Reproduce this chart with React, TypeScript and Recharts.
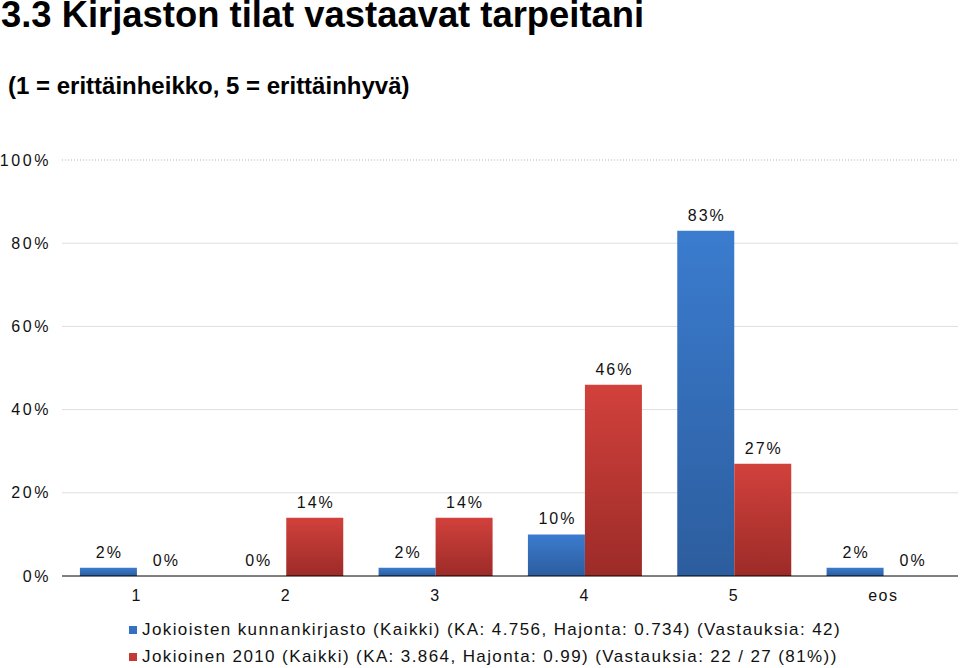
import { BarChart, Bar, XAxis, YAxis, CartesianGrid, ReferenceLine, LabelList } from "recharts";

const categories = ['1', '2', '3', '4', '5', 'eos'];
const kirjasto = [2, 0, 2, 10, 83, 2];
const jokioinen2010 = [0, 14, 14, 46, 27, 0];
const yTicks = [0, 20, 40, 60, 80, 100];
const seriesNames = [
  'Jokioisten kunnankirjasto (Kaikki) (KA: 4.756, Hajonta: 0.734) (Vastauksia: 42)',
  'Jokioinen 2010 (Kaikki) (KA: 3.864, Hajonta: 0.99) (Vastauksia: 22 / 27 (81%))',
];
const seriesColors = ['#3571c0', '#c23a35'];

const data = categories.map((c, i) => ({ cat: c, a: kirjasto[i], b: jokioinen2010[i] }));

const font = '"Liberation Sans", Arial, Helvetica, sans-serif';

// labels drawn by hand so that the 0% bars get one too
const ValueLabel = (props: any) => {
  const { x, y, width, value } = props;
  return (
    <text x={x + width / 2 + 1} y={y - 10} textAnchor="middle" fontSize={16} fill="#111" fontFamily={font} letterSpacing={2}>
      {`${value}%`}
    </text>
  );
};

export default function App() {
  return (
    <div style={{ position: 'absolute', left: 0, top: 0, width: 960, height: 668, background: '#fff', overflow: 'hidden' }}>
      <div style={{ position: 'absolute', left: 1, top: -3, fontFamily: font, fontWeight: 'bold', fontSize: 36.4, lineHeight: '36px', color: '#000', whiteSpace: 'nowrap' }}>
        3.3 Kirjaston tilat vastaavat tarpeitani
      </div>
      <div style={{ position: 'absolute', left: 8, top: 74, fontFamily: font, fontWeight: 'bold', fontSize: 24, lineHeight: '24px', color: '#000', whiteSpace: 'nowrap' }}>
        (1 = erittäinheikko, 5 = erittäinhyvä)
      </div>
      <BarChart
        width={960}
        height={668}
        data={data}
        margin={{ top: 160, right: 2, left: 0, bottom: 62 }}
        barCategoryGap="12%"
        barGap={0}
        style={{ position: 'absolute', left: 0, top: 0 }}
      >
        <defs>
          <linearGradient id="gBlue" x1="0" y1="0" x2="0" y2="1">
            <stop offset="0%" stopColor="#3b7ccf" />
            <stop offset="100%" stopColor="#2c5d9e" />
          </linearGradient>
          <linearGradient id="gRed" x1="0" y1="0" x2="0" y2="1">
            <stop offset="0%" stopColor="#d2413c" />
            <stop offset="100%" stopColor="#9c2b28" />
          </linearGradient>
        </defs>
        <CartesianGrid vertical={false} horizontalValues={[20, 40, 60, 80]} stroke="#dedede" />
        <ReferenceLine y={100} stroke="#b5b5b5" strokeDasharray="1 2" />
        <XAxis
          dataKey="cat"
          height={30}
          axisLine={{ stroke: '#000' }}
          tickLine={false}
          tickSize={0}
          tickMargin={14}
          tick={{ fontSize: 16, fill: '#111', fontFamily: font, letterSpacing: 1.5 }}
        />
        <YAxis
          width={62}
          domain={[0, 100]}
          ticks={yTicks}
          axisLine={false}
          tickLine={false}
          tickSize={0}
          tickMargin={11}
          tickFormatter={(v) => `${v}%`}
          tick={{ fontSize: 16, fill: '#111', fontFamily: font, letterSpacing: 2.6 }}
        />
        <Bar dataKey="a" name={seriesNames[0]} fill="url(#gBlue)" minPointSize={0.01} isAnimationActive={false}>
          <LabelList dataKey="a" content={<ValueLabel />} />
        </Bar>
        <Bar dataKey="b" name={seriesNames[1]} fill="url(#gRed)" minPointSize={0.01} isAnimationActive={false}>
          <LabelList dataKey="b" content={<ValueLabel />} />
        </Bar>
      </BarChart>
      <div style={{ position: 'absolute', left: 129, top: 616, fontFamily: font, fontSize: 17, letterSpacing: 1.4, color: '#111', whiteSpace: 'nowrap' }}>
        {seriesNames.map((n, i) => (
          <div key={n} style={{ display: 'flex', alignItems: 'center', height: 27 }}>
            <span style={{ display: 'inline-block', width: 8, height: 8, background: seriesColors[i], marginRight: 5 }} />
            <span>{n}</span>
          </div>
        ))}
      </div>
    </div>
  );
}
